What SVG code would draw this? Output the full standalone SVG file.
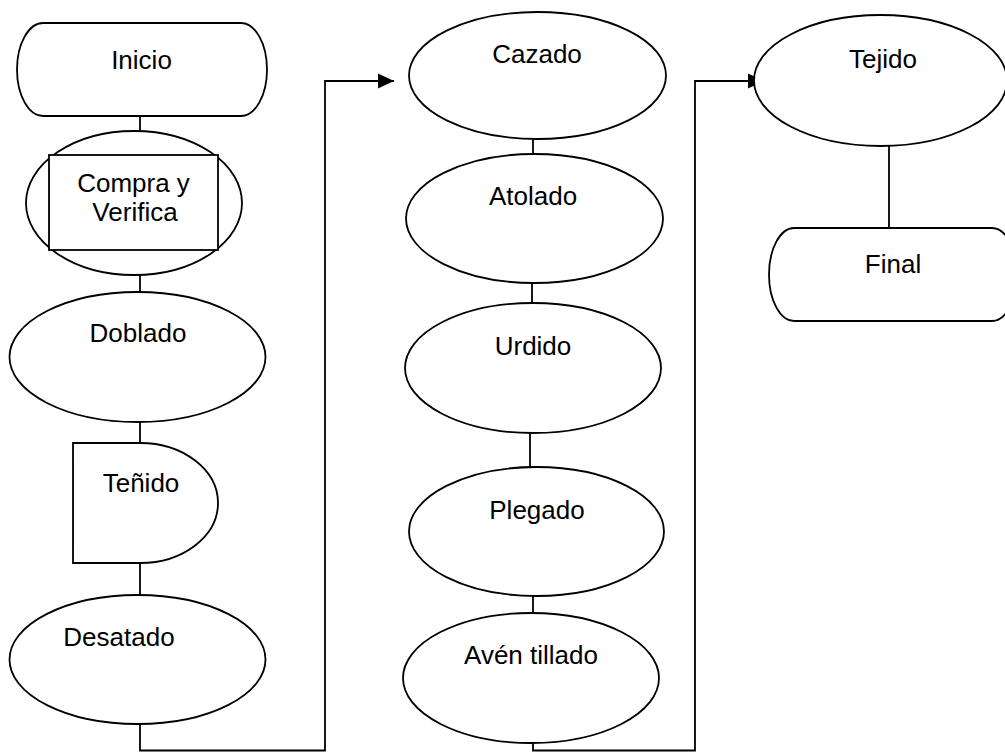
<svg xmlns="http://www.w3.org/2000/svg" width="1005" height="752" viewBox="0 0 1005 752">
  <style>
    .shape { fill: #ffffff; stroke: #000000; stroke-width: 1.8; }
    .link { fill: none; stroke: #000000; stroke-width: 1.8; }
    .label { font-family: "Liberation Sans", Arial, sans-serif; font-size: 26px; fill: #000000; text-anchor: middle; }
  </style>
  <defs>
    <marker id="arrow" markerUnits="userSpaceOnUse" markerWidth="16" markerHeight="16" viewBox="0 0 16 16" refX="16" refY="8" orient="auto">
      <path d="M0,0.5 L16,8 L0,15.5 Z" fill="#000000"/>
    </marker>
  </defs>
  <rect width="1005" height="752" fill="#ffffff"/>

  <!-- connectors -->
  <g id="connectors">
    <line class="link" x1="140" y1="116" x2="140" y2="131"/>
    <line class="link" x1="140" y1="275" x2="140" y2="292"/>
    <line class="link" x1="140" y1="422" x2="140" y2="443"/>
    <line class="link" x1="140" y1="563" x2="140" y2="595"/>
    <path class="link" d="M140,724 V750.5 H325 V81 H394" marker-end="url(#arrow)"/>
    <line class="link" x1="533" y1="139" x2="533" y2="154"/>
    <line class="link" x1="532" y1="283" x2="532" y2="303"/>
    <line class="link" x1="530" y1="433" x2="530" y2="467"/>
    <line class="link" x1="533" y1="596" x2="533" y2="613"/>
    <path class="link" d="M533,743 V750.5 H695 V81 H764" marker-end="url(#arrow)"/>
    <line class="link" x1="889" y1="146" x2="889" y2="228"/>
  </g>

  <!-- left column -->
  <g id="inicio">
    <rect class="shape" x="17" y="23" width="250" height="93" rx="26" ry="46.5"/>
    <text class="label" x="141.5" y="69">Inicio</text>
  </g>
  <g id="compra">
    <ellipse class="shape" cx="134" cy="203" rx="108" ry="72"/>
    <rect class="shape" x="49" y="155" width="169" height="95"/>
    <text class="label" x="133.5" y="192">Compra y</text>
    <text class="label" x="135" y="221">Verifica</text>
  </g>
  <g id="doblado">
    <ellipse class="shape" cx="137.5" cy="357" rx="128" ry="65"/>
    <text class="label" x="138" y="342">Doblado</text>
  </g>
  <g id="tenido">
    <path class="shape" d="M73,443 H140 A78,60 0 0 1 140,563 H73 Z"/>
    <text class="label" x="141" y="492">Teñido</text>
  </g>
  <g id="desatado">
    <ellipse class="shape" cx="137.5" cy="659.5" rx="128" ry="64.5"/>
    <text class="label" x="119" y="646">Desatado</text>
  </g>

  <!-- middle column -->
  <g id="cazado">
    <ellipse class="shape" cx="537.5" cy="75.5" rx="128.5" ry="63.5"/>
    <text class="label" x="537" y="63">Cazado</text>
  </g>
  <g id="atolado">
    <ellipse class="shape" cx="534.5" cy="218.5" rx="128.5" ry="64.5"/>
    <text class="label" x="533" y="205">Atolado</text>
  </g>
  <g id="urdido">
    <ellipse class="shape" cx="533" cy="368" rx="128" ry="65"/>
    <text class="label" x="533" y="355">Urdido</text>
  </g>
  <g id="plegado">
    <ellipse class="shape" cx="536.5" cy="531.5" rx="127.5" ry="64.5"/>
    <text class="label" x="537" y="519">Plegado</text>
  </g>
  <g id="aventillado">
    <ellipse class="shape" cx="531" cy="678" rx="128" ry="65"/>
    <text class="label" x="531" y="664">Avén tillado</text>
  </g>

  <!-- right column -->
  <g id="tejido">
    <ellipse class="shape" cx="880.5" cy="80.5" rx="126.5" ry="65.5"/>
    <text class="label" x="883" y="68">Tejido</text>
  </g>
  <g id="final">
    <rect class="shape" x="769" y="228" width="248" height="93" rx="25" ry="46.5"/>
    <text class="label" x="893" y="273">Final</text>
  </g>
</svg>
